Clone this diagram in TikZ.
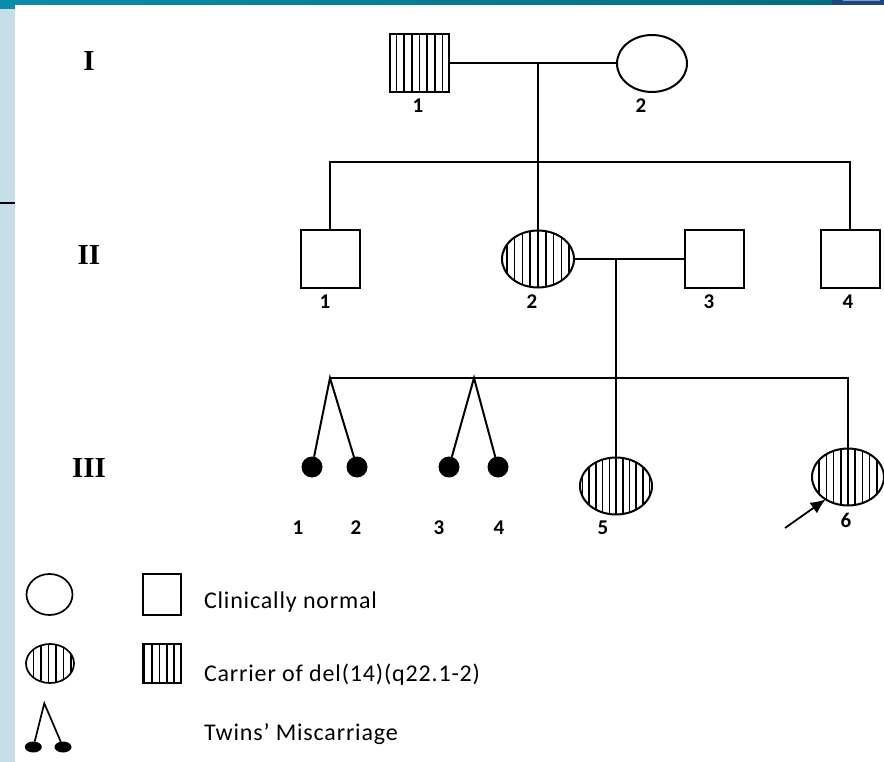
\documentclass[tikz,border=0pt]{standalone}
\usepackage{fontspec}
\setmainfont{Carlito}
\newfontfamily\genfont{Liberation Serif}
\newfontfamily\legendfont[LetterSpace=3.5]{Carlito}
\usetikzlibrary{shapes.geometric,arrows.meta}
\definecolor{barL}{HTML}{0A8DAA}
\definecolor{barR}{HTML}{006C80}
\definecolor{stripblue}{HTML}{C6DEE8}
\definecolor{navyblk}{HTML}{1E4680}
\definecolor{navylight}{HTML}{7F9CC4}

\begin{document}
\begin{tikzpicture}[x=1pt,y=-1pt,
  every node/.style={inner sep=0pt, outer sep=0pt},
  pen/.style={line width=2pt},
  thinpen/.style={line width=1.7pt},
  female/.style={ellipse, draw, pen, minimum width=72pt, minimum height=57pt},
  male/.style={rectangle, draw, pen, minimum width=59pt, minimum height=58pt},
  miscarriage/.style={circle, fill=black, minimum size=21pt},
  hatch/.style 2 args={path picture={
      \foreach \k in {-8,...,8}{
        \draw[line width=1.6pt]
          ([xshift={#2+(\k)*(#1)}]path picture bounding box.north) --
          ([xshift={#2+(\k)*(#1)}]path picture bounding box.south);}}},
  gen/.style={font=\genfont\bfseries\fontsize{29}{29}\selectfont},
  num/.style={font=\bfseries\fontsize{21}{21}\selectfont},
  legendtext/.style={font=\legendfont\fontsize{24}{24}\selectfont, anchor=base west}
]
\useasboundingbox (0,0) rectangle (884,762);
\fill[white] (0,0) rectangle (884,762);

% slide frame: left strip, top bar, corner blocks
\fill[stripblue] (0,0) rectangle (15,762);
\shade[left color=barL, right color=barR] (0,0) rectangle (884,5);
\fill[barL] (0,0) rectangle (15,9);
\fill[navyblk] (832,0) rectangle (884,5);
\fill[navylight] (843,0) rectangle (880,1.5);
\draw[line width=1.5pt] (0,203) -- (15,203);

% generation labels
\node[gen] (gI) at (89,61) {I};
\node[gen] (gII) at (89,255) {II};
\node[gen] (gIII) at (89,468) {III};

% generation I
\node[male, hatch={7.7}{0}] (I1) at (419.5,63.5) {};
\node[female, minimum width=70pt] (I2) at (652,63.5) {};
\node[num] (nI1) at (418,106) {1};
\node[num] (nI2) at (641,106) {2};
\coordinate (m1) at (538,63.5);
\draw[pen] (I1) -- (I2);

% generation II
\node[male] (II1) at (330,259) {};
\node[female, hatch={7.8}{0}] (II2) at (538,259) {};
\node[male] (II3) at (714.5,259) {};
\node[male] (II4) at (850,259) {};
\node[num] (nII1) at (325,302) {1};
\node[num] (nII2) at (532,302) {2};
\node[num] (nII3) at (709,302) {3};
\node[num] (nII4) at (848,302) {4};
\draw[pen] (m1) -- (II2.north);
\coordinate (g2L) at (330,162);
\coordinate (g2R) at (850,162);
\draw[pen] (II1.north) -- (g2L) -- (g2R) -- (II4.north);
\draw[pen] (II2) -- (II3);
\coordinate (m2) at (616,259);

% generation III
\coordinate (g3L) at (330,378);
\coordinate (g3R) at (848,378);
\coordinate (t2) at (474,378);
\node[miscarriage] (d1) at (312,467) {};
\node[miscarriage] (d2) at (357,467) {};
\node[miscarriage] (d3) at (449,467) {};
\node[miscarriage] (d4) at (498,467) {};
\node[female, hatch={6.7}{0}] (III5) at (616,486) {};
\node[female, hatch={7.2}{0}] (III6) at (848,477) {};
\draw[pen] (g3L) -- (g3R) -- (III6.north);
\draw[pen] (m2) -- (III5.north);
\draw[pen] (d1) -- (g3L) -- (d2);
\draw[pen] (d3) -- (t2) -- (d4);
\node[num] (nIII1) at (298,528) {1};
\node[num] (nIII2) at (356,528) {2};
\node[num] (nIII3) at (439,528) {3};
\node[num] (nIII4) at (499,528) {4};
\node[num] (nIII5) at (603,528) {5};
\node[num] (nIII6) at (846,520) {6};

% proband arrow
\coordinate (pa) at (785,528);
\draw[line width=1.8pt, -{Latex[length=15pt,width=13pt]}] (pa) -- (III6.225);

% legend
\node[ellipse, draw, thinpen, minimum width=46pt, minimum height=41pt] (Lf) at (49.5,594.5) {};
\node[rectangle, draw, thinpen, minimum width=38pt, minimum height=41pt] (Lm) at (162,594.5) {};
\node[legendtext] (Ltxt1) at (204,608) {Clinically normal};
\node[ellipse, draw, thinpen, minimum width=48pt, minimum height=39pt, hatch={7.5}{-1.7}] (Lfc) at (50,663.5) {};
\node[rectangle, draw, thinpen, minimum width=38pt, minimum height=39pt, hatch={7.4}{-2.7}] (Lmc) at (162,663.5) {};
\node[legendtext] (Ltxt2) at (204,681) {Carrier of del(14)(q22.1-2)};
\coordinate (Lt) at (44.3,703.3);
\node[ellipse, fill=black, minimum width=17pt, minimum height=11pt] (Lb1) at (33.3,747) {};
\node[ellipse, fill=black, minimum width=17pt, minimum height=11pt] (Lb2) at (63,747) {};
\draw[thinpen] (Lb1) -- (Lt) -- (Lb2);
\node[legendtext] (Ltxt3) at (204,740) {Twins’ Miscarriage};
\end{tikzpicture}
\end{document}
